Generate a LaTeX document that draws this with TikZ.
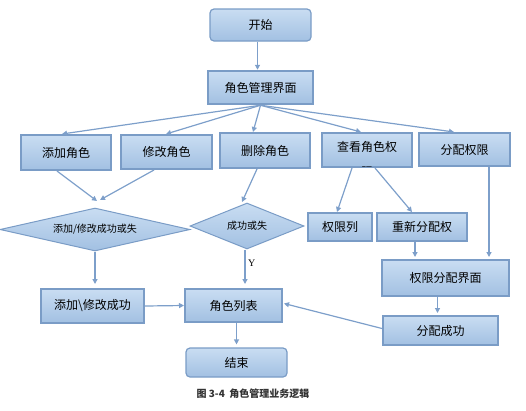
\documentclass[tikz,border=0pt]{standalone}
\usepackage{fontspec}
\setmainfont{Noto Sans CJK SC}
\newfontfamily\ylabfont{Liberation Serif}
\usetikzlibrary{shapes.geometric,arrows.meta,calc}
\definecolor{ctop}{HTML}{C9DDF2}
\definecolor{cbot}{HTML}{A2C0E2}
\definecolor{cbord}{HTML}{7A9CC6}
\definecolor{carr}{HTML}{7D9FCA}
\tikzset{
  box/.style={draw=cbord, line width=2pt, top color=ctop, bottom color=cbot, inner sep=0pt, font=\fontsize{12}{14}\selectfont},
  rbox/.style={box, line width=1.2pt, rounded corners=4pt},
  dia/.style={diamond, draw=cbord, line width=1pt, top color=ctop, bottom color=cbot, inner sep=0pt, font=\fontsize{10}{12}\selectfont},
  arr/.style={draw=carr, line width=1.2pt, -{Triangle[length=5pt,width=5pt]}},
}
\begin{document}
\begin{tikzpicture}[x=1pt,y=-1pt]
\useasboundingbox (0,0) rectangle (526,410);
\node[rbox, minimum width=101pt, minimum height=32pt] (start) at (260.5,25) {开始};
\node[box, line width=2.5pt, minimum width=105pt, minimum height=33pt] (mgr) at (260.5,87.5) {角色管理界面};
\node[box, minimum width=90pt, minimum height=35pt] (add) at (66,152.5) {添加角色};
\node[box, minimum width=91pt, minimum height=34pt] (mod) at (166.5,152) {修改角色};
\node[box, minimum width=90pt, minimum height=35pt] (del) at (265,150.5) {删除角色};
\node[box, minimum width=90pt, minimum height=34pt] (ck) at (367,150) {};
\node[font=\fontsize{12}{14}\selectfont, inner sep=0pt] (cktxt) at (367,147) {查看角色权};
\begin{scope}
\clip (323,134) rectangle (411,166.5);
\node[font=\fontsize{12}{14}\selectfont, inner sep=0pt] (cktxt2) at (367,172.5) {限};
\end{scope}
\node[box, minimum width=91pt, minimum height=33pt] (fp) at (464.5,149.5) {分配权限};
\node[dia, aspect=4.42, minimum width=190pt, minimum height=43pt] (d1) at (95,229.5) {添加/修改成功或失};
\node[dia, aspect=2.48, minimum width=114pt, minimum height=46pt] (d2) at (247,226) {成功或失};
\node[box, minimum width=64pt, minimum height=28pt] (qxl) at (340,227) {权限列};
\node[box, minimum width=90pt, minimum height=28pt] (cxfp) at (422,227) {重新分配权};
\node[box, minimum width=127pt, minimum height=36pt] (qxfpjm) at (445.5,278) {权限分配界面};
\node[box, minimum width=103pt, minimum height=34pt] (tjcg) at (92.5,306) {添加\textbackslash 修改成功};
\node[box, minimum width=97pt, minimum height=33pt] (jslb) at (233.5,305.5) {角色列表};
\node[box, minimum width=115pt, minimum height=29pt] (fpcg) at (440.5,330.5) {分配成功};
\node[rbox, minimum width=101pt, minimum height=29pt] (end) at (236.5,362.5) {结束};
\node[font=\bfseries\fontsize{10}{12}\selectfont, text=black!80] (cap) at (253,394) {图 3-4\ \ 角色管理业务逻辑};
\coordinate (a1) at (97,201);
\coordinate (a2) at (100,200);
\coordinate (a3) at (242,202);
\coordinate (s0) at ($(start.south)+(-3,0)$);
\coordinate (p1) at ($(fp.south west)+(71,0)$);
\coordinate (p2) at ($(cxfp.south)+(-7,0)$);
\coordinate (p3) at ($(d2.south)+(-2,0)$);
\coordinate (p4) at ($(qxfpjm.south)+(-8,0)$);
\coordinate (p5) at ($(jslb.south)+(3,0)$);
% arrows
\draw[arr] (s0) -- (s0 |- mgr.north);
\draw[arr] (mgr.south) -- ($(add.north west)+(42,0)$);
\draw[arr] (mgr.south) -- ($(mod.north west)+(46,0)$);
\draw[arr] (mgr.south) -- ($(del.north west)+(34,0)$);
\draw[arr] (mgr.south) -- ($(ck.north west)+(40,0)$);
\draw[arr] (mgr.south) -- ($(fp.north west)+(36,0)$);
\draw[arr] ($(add.south west)+(37,0)$) -- (a1);
\draw[arr] ($(mod.south west)+(34,0)$) -- (a2);
\draw[arr] ($(del.south west)+(38,0)$) -- (a3);
\draw[arr] ($(ck.south west)+(31,0)$) -- ($(qxl.north)+(-3,0)$);
\draw[arr] ($(ck.south west)+(54,0)$) -- ($(cxfp.north)+(-10,0)$);
\draw[arr, shorten >=2pt] (p1) -- (p1 |- qxfpjm.north);
\draw[arr, shorten >=2pt] (p2) -- (p2 |- qxfpjm.north);
\draw[arr, shorten >=4pt] (d1.south) -- (d1.south |- tjcg.north);
\draw[arr, shorten >=4pt] (p3) -- (p3 |- jslb.north) node[pos=0.36, right, font=\ylabfont\fontsize{10}{11}\selectfont, inner sep=2.5pt] (ylab) {Y};
\draw[arr] (tjcg.east) -- (jslb.west);
\draw[arr] ($(fpcg.west)+(0,-2)$) -- ($(jslb.east)+(1,-2)$);
\draw[arr, shorten >=2pt] (p4) -- (p4 |- fpcg.north);
\draw[arr, shorten >=3pt] (p5) -- (p5 |- end.north);
\end{tikzpicture}
\end{document}
